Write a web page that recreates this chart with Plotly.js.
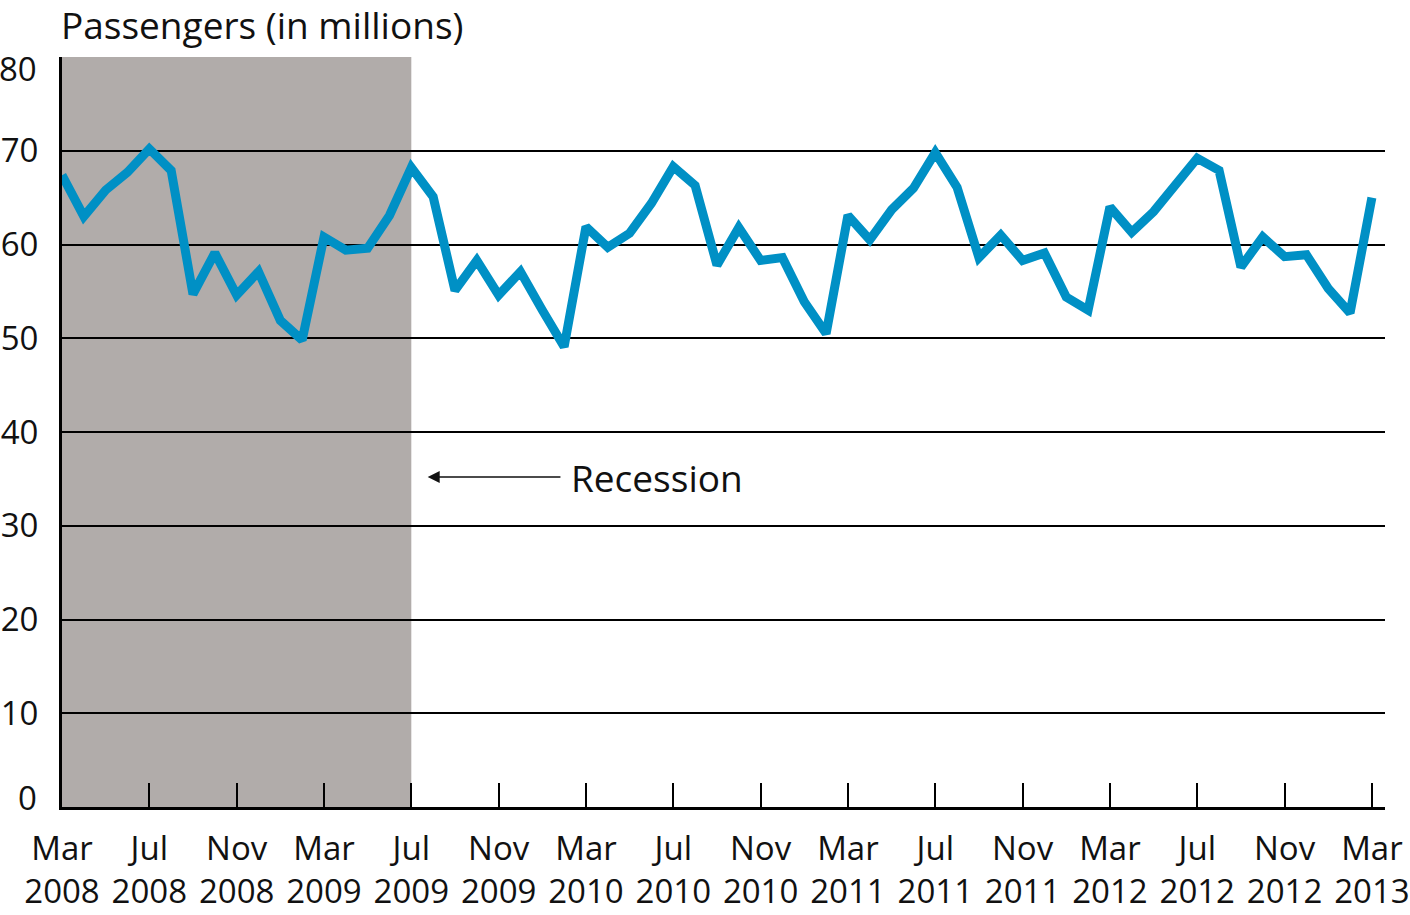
<!DOCTYPE html>
<html>
<head>
<meta charset="utf-8">
<script src="https://cdn.plot.ly/plotly-3.0.1.min.js"></script>
<style>
  html, body { margin: 0; padding: 0; background: #ffffff; }
  #chart { width: 1410px; height: 915px; }
</style>
</head>
<body>
<div id="chart"></div>
<script>
const months = [
  'Mar 2008','Apr 2008','May 2008','Jun 2008','Jul 2008','Aug 2008','Sep 2008','Oct 2008','Nov 2008','Dec 2008',
  'Jan 2009','Feb 2009','Mar 2009','Apr 2009','May 2009','Jun 2009','Jul 2009','Aug 2009','Sep 2009','Oct 2009',
  'Nov 2009','Dec 2009','Jan 2010','Feb 2010','Mar 2010','Apr 2010','May 2010','Jun 2010','Jul 2010','Aug 2010',
  'Sep 2010','Oct 2010','Nov 2010','Dec 2010','Jan 2011','Feb 2011','Mar 2011','Apr 2011','May 2011','Jun 2011',
  'Jul 2011','Aug 2011','Sep 2011','Oct 2011','Nov 2011','Dec 2011','Jan 2012','Feb 2012','Mar 2012','Apr 2012',
  'May 2012','Jun 2012','Jul 2012','Aug 2012','Sep 2012','Oct 2012','Nov 2012','Dec 2012','Jan 2013','Feb 2013',
  'Mar 2013'
];

const passengers = [
  67.4, 63.0, 65.8, 67.7, 70.2, 67.9, 54.7, 59.1, 54.6, 57.1,
  51.9, 49.8, 60.8, 59.4, 59.6, 63.1, 68.2, 65.1, 55.1, 58.3,
  54.6, 57.1, 53.0, 49.1, 61.9, 59.7, 61.2, 64.4, 68.3, 66.3,
  57.8, 61.8, 58.3, 58.6, 53.9, 50.5, 63.1, 60.5, 63.7, 66.0,
  69.8, 66.1, 58.6, 61.0, 58.3, 59.1, 54.4, 53.0, 64.0, 61.3,
  63.5, 66.3, 69.2, 67.9, 57.6, 60.8, 58.7, 58.9, 55.3, 52.7,
  65.0
];

const xTickVals = ['Mar 2008','Jul 2008','Nov 2008','Mar 2009','Jul 2009','Nov 2009','Mar 2010','Jul 2010',
  'Nov 2010','Mar 2011','Jul 2011','Nov 2011','Mar 2012','Jul 2012','Nov 2012','Mar 2013'];
const xTickText = ['Mar<br>2008','Jul<br>2008','Nov<br>2008','Mar<br>2009','Jul<br>2009','Nov<br>2009',
  'Mar<br>2010','Jul<br>2010','Nov<br>2010','Mar<br>2011','Jul<br>2011','Nov<br>2011','Mar<br>2012',
  'Jul<br>2012','Nov<br>2012','Mar<br>2013'];
const yTickVals = [0, 10, 20, 30, 40, 50, 60, 70, 80];
const yTickText = ['0', '10', '20', '30', '40', '50', '60', '70', '80'];

const recessionStart = 'Mar 2008';
const recessionEnd = 'Jul 2009';

const FONT = '"Open Sans", "Noto Sans", sans-serif';
const FS = 33;
const FS_BIG = 37;
const TXT = '#111111';

const trace = {
  type: 'scatter',
  mode: 'lines',
  x: months,
  y: passengers,
  line: { color: '#0090c5', width: 9 },
  hoverinfo: 'x+y'
};

const iStart = months.indexOf(recessionStart);
const iEnd = months.indexOf(recessionEnd);

// end labels (0 and 80) sit slightly inside the plot in the reference
const lastI = yTickVals.length - 1;
const yAxisText = yTickText.map((t, i) => (i === 0 || i === lastI) ? '' : t);
const endLabels = [
  { v: yTickVals[0], t: yTickText[0], shift: 10 },
  { v: yTickVals[lastI], t: yTickText[lastI], shift: -11 }
].map(o => ({
  text: o.t, xref: 'paper', yref: 'y', x: 0, y: o.v,
  xanchor: 'right', yanchor: 'middle', xshift: -23, yshift: o.shift,
  showarrow: false, font: { family: FONT, size: FS, color: TXT }
}));

const layout = {
  width: 1410,
  height: 915,
  margin: { l: 62, r: 25, t: 57, b: 108 },
  paper_bgcolor: '#ffffff',
  plot_bgcolor: '#ffffff',
  showlegend: false,
  font: { family: FONT, size: FS, color: TXT },
  xaxis: {
    type: 'category',
    categoryorder: 'array',
    categoryarray: months,
    range: [0, 60.6],
    tickmode: 'array',
    tickvals: xTickVals,
    ticktext: xTickText,
    ticks: 'inside',
    ticklen: 24,
    tickwidth: 2,
    tickcolor: '#000000',
    showgrid: false,
    showline: true,
    linecolor: '#000000',
    linewidth: 3,
    zeroline: false,
    tickfont: { family: FONT, size: FS, color: TXT },
    ticklabelstandoff: 10
  },
  yaxis: {
    range: [0, 80],
    tickmode: 'array',
    tickvals: yTickVals,
    ticktext: yAxisText,
    ticks: '',
    showgrid: true,
    gridcolor: '#000000',
    gridwidth: 2,
    showline: true,
    linecolor: '#000000',
    linewidth: 3,
    zeroline: false,
    tickfont: { family: FONT, size: FS, color: TXT },
    ticklabelstandoff: 14
  },
  shapes: [
    {
      type: 'rect', xref: 'x', yref: 'y',
      x0: iStart, x1: iEnd, y0: 0, y1: 80,
      fillcolor: '#b1acaa', line: { width: 0 }, layer: 'below'
    }
  ],
  annotations: [
    {
      text: 'Passengers (in millions)',
      xref: 'paper', yref: 'paper', x: 0, y: 1,
      xanchor: 'left', yanchor: 'middle', yshift: 33, xshift: -2, borderpad: 0,
      showarrow: false,
      font: { family: FONT, size: FS_BIG, color: TXT }
    },
    {
      text: '',
      xref: 'x', yref: 'y', axref: 'x', ayref: 'y',
      x: 16.75, y: 35.2, ax: 22.9, ay: 35.2,
      showarrow: true, arrowhead: 2, arrowsize: 1.6, arrowwidth: 1.5, arrowcolor: TXT
    },
    {
      text: 'Recession',
      xref: 'x', yref: 'y', x: 23.2, y: 35.2,
      xanchor: 'left', yanchor: 'middle',
      showarrow: false,
      font: { family: FONT, size: FS_BIG, color: TXT }
    }
  ].concat(endLabels)
};

Plotly.newPlot('chart', [trace], layout, { displayModeBar: false, staticPlot: true });
</script>
</body>
</html>
